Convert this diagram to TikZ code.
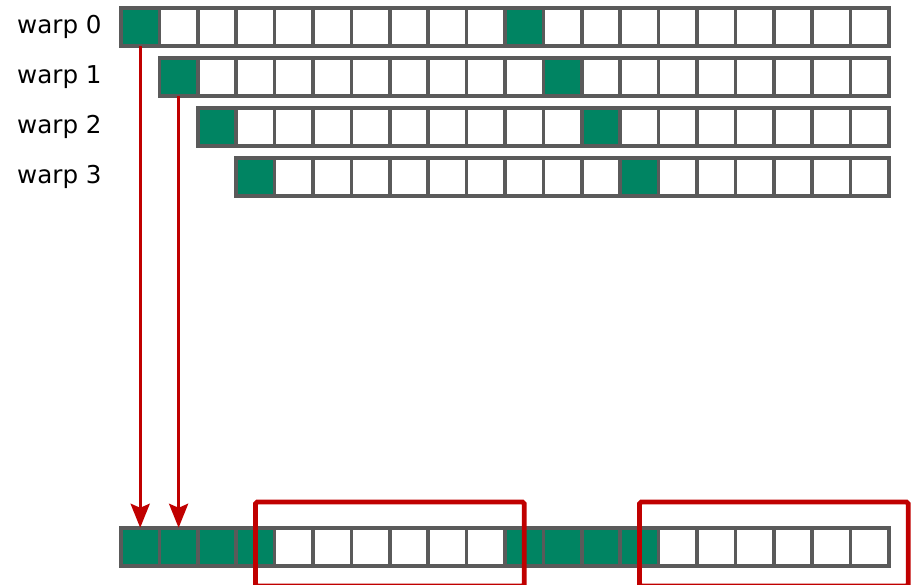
\documentclass[tikz,border=0pt]{standalone}
\usepackage{fontspec}
\setmainfont{DejaVu Sans}
\usepackage{tikz}
\usetikzlibrary{arrows.meta,positioning,calc}
\definecolor{cellgray}{RGB}{90,90,90}
\definecolor{cellgreen}{RGB}{0,132,98}
\definecolor{movered}{RGB}{192,0,0}

\begin{document}
\begin{tikzpicture}[
  cell/.style={draw=cellgray, fill=white, line width=2pt,
               minimum size=7.68mm, inner sep=0pt, outer sep=0pt},
  hot/.style={cell, fill=cellgreen},
  warplab/.style={font=\fontsize{14}{16}\selectfont, anchor=east, inner sep=0pt},
  arr/.style={-{Stealth[length=4.8mm, width=3.8mm, inset=0.8mm]}, line width=1.9pt, color=movered},
  sel/.style={draw=movered, line width=2.7pt, rounded corners=1pt},
  >=Stealth
]
\useasboundingbox (0,0) rectangle (18.22,-11.7);

% Warp rows
\foreach \r in {0,...,3} {
  \node[warplab] (lab\r) at (2.04,-0.54-\r) {warp \r};
  \foreach \c in {\r,...,19} {
    \pgfmathtruncatemacro{\k}{mod(\c-\r,10)==0}
    \ifnum\k=1 \def\sty{hot}\else\def\sty{cell}\fi
    \node[\sty] (w\r c\c) at (2.804+\c*0.768,-0.54-\r) {};
  }
}

% Result row
\foreach \c in {0,...,19} {
  \pgfmathtruncatemacro{\k}{mod(\c,10)<4}
  \ifnum\k=1 \def\sty{hot}\else\def\sty{cell}\fi
  \node[\sty] (b\c) at (2.804+\c*0.768,-10.94) {};
}

% Connections
\draw[arr] (w0c0.south) -- (b0.north);
\draw[arr] (w1c1.south) -- (b1.north);

% Highlight boxes
\draw[sel] ($(b3.center)+(0,0.9)$) rectangle ($(b10.center)+(0,-0.78)$);
\draw[sel] ($(b13.center)+(0,0.9)$) rectangle ($(b19.center)+(0.768,-0.78)$);

\end{tikzpicture}
\end{document}
